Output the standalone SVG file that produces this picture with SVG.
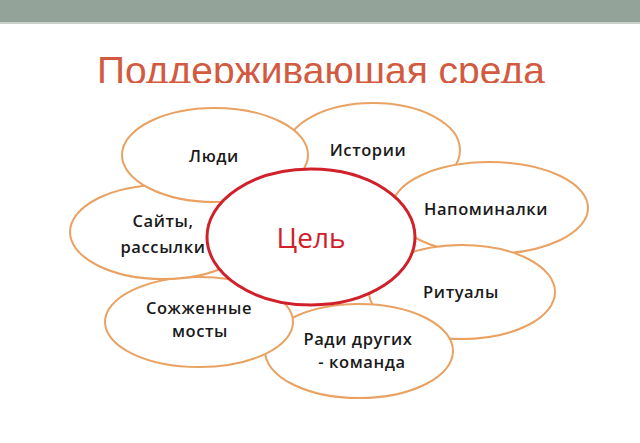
<svg xmlns="http://www.w3.org/2000/svg" width="640" height="443" viewBox="0 0 640 443">
<defs>
<style>
.pet{fill:#fff;stroke:#E9A262;stroke-width:2}
.lbl{font-family:"Open Sans","Noto Sans",sans-serif;font-size:16.5px;font-weight:600;fill:#1a1a1a;text-anchor:middle;letter-spacing:0.6px}
.title{font-family:"Liberation Sans",Arial,sans-serif;font-size:39px;fill:#D25A40;text-anchor:middle}
</style>
<clipPath id="tclip"><rect x="0" y="30" width="640" height="53"/></clipPath>
</defs>
<rect x="0" y="0" width="640" height="443" fill="#fff"/>
<rect x="0" y="0" width="640" height="22.5" fill="#93A399"/>
<rect x="0" y="22.5" width="640" height="1.5" fill="#C9D2CC"/>
<text class="title" x="321" y="84" clip-path="url(#tclip)" textLength="448" lengthAdjust="spacingAndGlyphs">Поддерживаюшая среда</text>
<g id="node-istorii"><ellipse class="pet" cx="373" cy="150" rx="87" ry="47"/><text class="lbl" x="368" y="156">Истории</text></g>
<g id="node-napominalki"><ellipse class="pet" cx="490" cy="208" rx="98" ry="46"/><text class="lbl" x="486" y="215">Напоминалки</text></g>
<g id="node-ritualy"><ellipse class="pet" cx="462" cy="292" rx="93" ry="47"/><text class="lbl" x="461" y="298">Ритуалы</text></g>
<g id="node-radi"><ellipse class="pet" cx="359" cy="351" rx="94" ry="47"/><text class="lbl" x="358" y="345">Ради других</text><text class="lbl" x="362" y="368">- команда</text></g>
<g id="node-mosty"><ellipse class="pet" cx="199" cy="322" rx="94" ry="45"/><text class="lbl" x="199" y="314">Сожженные</text><text class="lbl" x="200" y="337">мосты</text></g>
<g id="node-saity"><ellipse class="pet" cx="163" cy="232" rx="93" ry="47"/><text class="lbl" x="163" y="227">Сайты,</text><text class="lbl" x="163" y="253">рассылки</text></g>
<g id="node-lyudi"><ellipse class="pet" cx="215" cy="155" rx="93" ry="47"/><text class="lbl" x="214" y="162">Люди</text></g>
<g id="node-tsel"><ellipse cx="311" cy="237" rx="104" ry="68" fill="#fff" stroke="#D0202A" stroke-width="3"/><text x="311" y="248" font-family="'Open Sans','Noto Sans',sans-serif" font-size="28" font-weight="500" fill="#D0202A" text-anchor="middle">Цель</text></g>
<g id="connectors"/>
</svg>
